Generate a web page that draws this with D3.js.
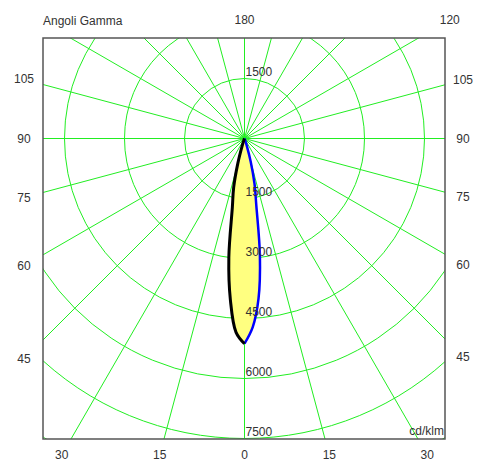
<!DOCTYPE html>
<html>
<head>
<meta charset="utf-8">
<script src="https://cdn.jsdelivr.net/npm/d3@7"></script>
<style>
  body { margin: 0; background: #fff; }
  text { font-family: Arial, "Liberation Sans", sans-serif; font-size: 12px; fill: #333; }
</style>
</head>
<body>
<svg id="chart" width="477" height="462"></svg>
<script>
// angoli gamma (gradi) e intensità in cd/klm
var gamma = [0, 2.5, 5, 7.5, 10, 12.5, 15, 17.5, 20, 25, 30, 45, 60, 90, 120, 150, 180];
var piano_c0 = [5130, 4850, 4050, 3000, 1750, 1250, 650, 200, 50, 10, 0, 0, 0, 0, 0, 0, 0];   // nero, lato sinistro
var piano_c90 = [5130, 4720, 4020, 2950, 1700, 1150, 600, 180, 40, 10, 0, 0, 0, 0, 0, 0, 0];  // blu, lato destro

var cerchi = [1500, 3000, 4500, 6000, 7500, 9000];
var raggi_angoli = d3.range(0, 360, 15);
var etichette_sx = [105, 90, 75, 60, 45, 30, 15];
var etichette_dx = [0, 15, 30, 45, 60, 75, 90, 105, 120, 180];

// cornice e centro (mezzo pixel per linee nitide)
var frame = {left: 43, top: 38, right: 445, bottom: 439};
var cx = 244.5, cy = 138.5;
var lab = {left: 24, top: 20, right: 463, bottom: 455};

var r = d3.scaleLinear().domain([0, 7500]).range([0, 300]);

var svg = d3.select('#chart');

svg.append('clipPath').attr('id', 'clip')
  .append('rect')
  .attr('x', frame.left).attr('y', frame.top)
  .attr('width', frame.right - frame.left)
  .attr('height', frame.bottom - frame.top);

var grid = svg.append('g').attr('clip-path', 'url(#clip)');

grid.selectAll('circle')
  .data(cerchi)
  .enter()
  .append('circle')
  .attr('cx', cx).attr('cy', cy)
  .attr('r', d => r(d))
  .attr('fill', 'none')
  .attr('stroke', '#22ee22')
  .attr('stroke-width', 1);

grid.selectAll('path.raggio')
  .data(raggi_angoli)
  .enter()
  .append('path')
  .attr('class', 'raggio')
  .attr('d', function(d) {
    var a = d * Math.PI / 180;
    return 'M' + cx + ',' + cy + 'L' + (cx + 420 * Math.sin(a)).toFixed(2) + ',' + (cy + 420 * Math.cos(a)).toFixed(2);
  })
  .attr('fill', 'none')
  .attr('stroke', '#22ee22')
  .attr('stroke-width', 1);

// curve fotometriche
function punti(valori, lato) {
  return gamma.map(function(g, i) {
    var a = g * Math.PI / 180;
    return [cx + lato * r(valori[i]) * Math.sin(a), cy + r(valori[i]) * Math.cos(a)];
  });
}
var linea = d3.line().curve(d3.curveCatmullRom);
var nero = punti(piano_c0, -1);
var blu = punti(piano_c90, 1);

svg.append('path')
  .attr('d', linea(nero) + linea(blu))
  .attr('fill', '#ffff80')
  .attr('stroke', 'none');

svg.append('path')
  .attr('d', linea(blu))
  .attr('fill', 'none')
  .attr('stroke', '#0000ff')
  .attr('stroke-width', 2.5);

svg.append('path')
  .attr('d', linea(nero))
  .attr('fill', 'none')
  .attr('stroke', '#000')
  .attr('stroke-width', 3);

// etichette dei cerchi
svg.append('text').attr('x', cx + 1).attr('y', cy - r(1500) - 3).text('1500');
svg.selectAll('.val')
  .data(cerchi.filter(d => d <= 7500))
  .enter()
  .append('text')
  .attr('class', 'val')
  .attr('x', cx + 1)
  .attr('y', d => cy + r(d) - 3)
  .text(d => d);

// cornice
svg.append('rect')
  .attr('x', frame.left).attr('y', frame.top)
  .attr('width', frame.right - frame.left)
  .attr('height', frame.bottom - frame.top)
  .attr('fill', 'none')
  .attr('stroke', '#555')
  .attr('stroke-width', 1.5);

// etichette angolari: intersezione del raggio con il rettangolo esterno
function posizione(g, lato) {
  var a = g * Math.PI / 180;
  var dx = lato * Math.sin(a), dy = Math.cos(a);
  var t = Infinity;
  if (dx < -1e-9) t = Math.min(t, (lab.left - cx) / dx);
  if (dx > 1e-9) t = Math.min(t, (lab.right - cx) / dx);
  if (dy < -1e-9) t = Math.min(t, (lab.top - cy) / dy);
  if (dy > 1e-9) t = Math.min(t, (lab.bottom - cy) / dy);
  return [cx + t * dx, cy + t * dy];
}

var angoli = etichette_sx.map(g => ({g: g, lato: -1})).concat(etichette_dx.map(g => ({g: g, lato: 1})));
svg.selectAll('.ang')
  .data(angoli)
  .enter()
  .append('text')
  .attr('class', 'ang')
  .attr('x', d => posizione(d.g, d.lato)[0])
  .attr('y', d => posizione(d.g, d.lato)[1])
  .attr('text-anchor', 'middle')
  .attr('dominant-baseline', 'central')
  .text(d => d.g);

svg.append('text').attr('x', frame.left).attr('y', 25).text('Angoli Gamma');
svg.append('text').attr('x', frame.right - 1).attr('y', 435).attr('text-anchor', 'end').text('cd/klm');
</script>
</body>
</html>
